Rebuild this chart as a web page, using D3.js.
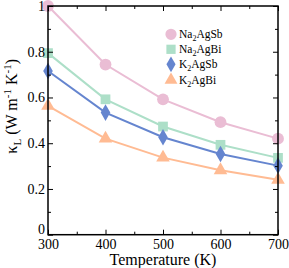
<!DOCTYPE html>
<html><head><meta charset="utf-8">
<script src="https://cdn.jsdelivr.net/npm/d3@7/dist/d3.min.js"></script>
<style>body{margin:0;background:#fff}svg{display:block}svg text{font-family:"Liberation Serif","Times New Roman",serif !important}</style>
</head><body><div id="chart"></div>
<script>
const temperatures = [300, 400, 500, 600, 700];
const na2agsb = [1.0, 0.744, 0.592, 0.492, 0.42];
const na2agbi = [0.794, 0.592, 0.473, 0.393, 0.336];
const k2agsb = [0.716, 0.534, 0.426, 0.353, 0.302];
const k2agbi = [0.563, 0.42, 0.337, 0.282, 0.24];
const xTicks = [300, 400, 500, 600, 700];
const yTicks = [0, 0.2, 0.4, 0.6, 0.8, 1];
const yTickLabels = ["0", "0.2", "0.4", "0.6", "0.8", "1"];

const FONT = "Liberation Serif, Times New Roman, serif";
const series = [
  {name: ["Na", "2", "AgSb"], values: na2agsb, color: "#eabdd4", sym: d3.symbolCircle, size: 110},
  {name: ["Na", "2", "AgBi"], values: na2agbi, color: "#addfc8", sym: d3.symbolSquare, size: 95},
  {name: ["K", "2", "AgSb"], values: k2agsb, color: "#6585cf", sym: d3.symbolDiamond, size: 80},
  {name: ["K", "2", "AgBi"], values: k2agbi, color: "#ffbb93", sym: d3.symbolTriangle, size: 80}
];

const W = 289, H = 268;
const m = {left: 48, right: 11, top: 6, bottom: 33.3};
const svg = d3.select("#chart").append("svg").attr("width", W).attr("height", H)
  .attr("font-family", FONT);
const x = d3.scaleLinear().domain([300, 700]).range([m.left, W - m.right]);
const y = d3.scaleLinear().domain([0, 1]).range([H - m.bottom, m.top]);

const line = d3.line().x((d, i) => x(temperatures[i])).y(d => y(d));
series.forEach(s => {
  svg.append("path").datum(s.values).attr("d", line)
    .attr("fill", "none").attr("stroke", s.color).attr("stroke-width", 2);
  svg.selectAll(null).data(s.values).enter().append("path")
    .attr("transform", (d, i) => `translate(${x(temperatures[i])},${y(d)})`)
    .attr("d", d3.symbol().type(s.sym).size(s.size)).attr("fill", s.color);
});

const minorX = d3.range(350, 700, 100);
const minorY = d3.range(0.1, 1, 0.2);
function axes() {
  const g = svg.append("g");
  const bottom = g.append("g").attr("transform", `translate(0,${y(0)})`)
    .call(d3.axisBottom(x).tickValues(xTicks).tickSize(-5).tickPadding(4).tickFormat(d3.format("d")));
  bottom.selectAll(".tick text").attr("font-size", 14);
  g.append("g").attr("transform", `translate(0,${y(0)})`)
    .call(d3.axisBottom(x).tickValues(minorX).tickSize(-3).tickFormat(""));
  g.append("g").attr("transform", `translate(0,${y(1)})`)
    .call(d3.axisTop(x).tickValues(xTicks).tickSize(-5).tickFormat(""));
  g.append("g").attr("transform", `translate(0,${y(1)})`)
    .call(d3.axisTop(x).tickValues(minorX).tickSize(-3).tickFormat(""));
  const left = g.append("g").attr("transform", `translate(${x(300)},0)`)
    .call(d3.axisLeft(y).tickValues(yTicks).tickSize(-5).tickPadding(3).tickFormat((d, i) => yTickLabels[i]));
  left.selectAll(".tick text").attr("font-size", 14);
  left.selectAll(".tick text").filter(d => d === 0).attr("dy", "-0.1em");
  g.append("g").attr("transform", `translate(${x(300)},0)`)
    .call(d3.axisLeft(y).tickValues(minorY).tickSize(-3).tickFormat(""));
  g.append("g").attr("transform", `translate(${x(700)},0)`)
    .call(d3.axisRight(y).tickValues(yTicks).tickSize(-5).tickFormat(""));
  g.append("g").attr("transform", `translate(${x(700)},0)`)
    .call(d3.axisRight(y).tickValues(minorY).tickSize(-3).tickFormat(""));
  g.selectAll("g").attr("font-family", FONT);
  g.selectAll(".tick text").attr("font-family", FONT).attr("fill", "#000");
  g.selectAll(".domain").remove();
  g.selectAll(".tick line").attr("stroke", "#000").attr("stroke-width", 1);
  svg.append("rect").attr("x", x(300)).attr("y", y(1)).attr("width", x(700) - x(300)).attr("height", y(0) - y(1))
    .attr("fill", "none").attr("stroke", "#000").attr("stroke-width", 1.5);
}
axes();

svg.append("text").attr("x", (x(300) + x(700)) / 2).attr("y", 264.5).attr("text-anchor", "middle")
  .attr("font-size", 16).text("Temperature (K)");

const yl = svg.append("text").attr("transform", `translate(17,${(y(0) + y(1)) / 2 - 14}) rotate(-90)`)
  .attr("text-anchor", "middle").attr("font-size", 16);
yl.append("tspan").text("κ");
yl.append("tspan").attr("font-size", 11).attr("dy", 4).text("L");
yl.append("tspan").attr("dy", -4).text(" (W m");
yl.append("tspan").attr("font-size", 11).attr("dy", -6).text("-1");
yl.append("tspan").attr("dy", 6).text(" K");
yl.append("tspan").attr("font-size", 11).attr("dy", -6).text("-1");
yl.append("tspan").attr("dy", 6).text(")");

const legY = [34.3, 49.3, 64.3, 80];
series.forEach((s, i) => {
  svg.append("path").attr("transform", `translate(171,${legY[i]})`)
    .attr("d", d3.symbol().type(s.sym).size(s.size * 0.9)).attr("fill", s.color);
  const t = svg.append("text").attr("x", 179).attr("y", legY[i] + 3.5).attr("font-size", 11.5);
  t.append("tspan").text(s.name[0]);
  t.append("tspan").attr("font-size", 8).attr("dy", 3).text(s.name[1]);
  t.append("tspan").attr("dy", -3).text(s.name[2]);
});
</script></body></html>
